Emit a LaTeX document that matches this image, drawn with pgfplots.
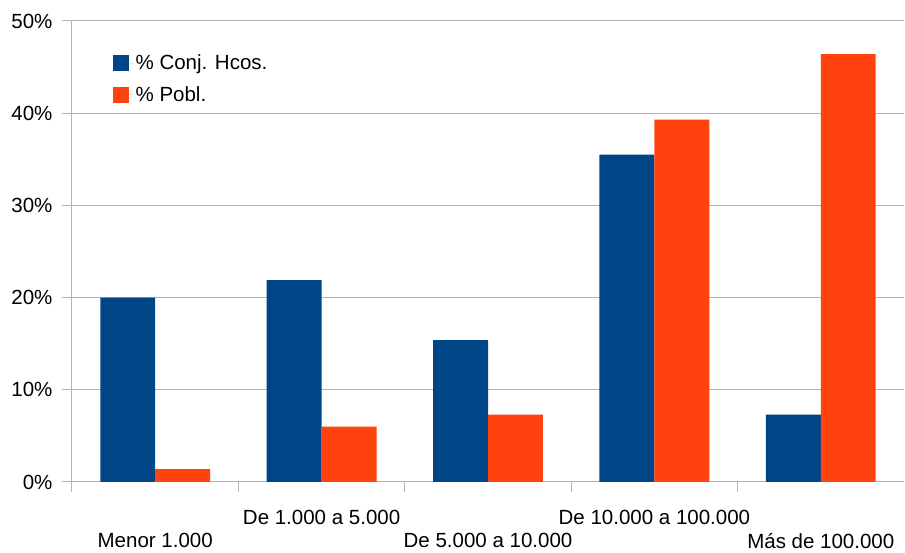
\documentclass[border=0pt]{standalone}
\usepackage{pgfplots}
\pgfplotsset{compat=1.18}
\usepackage{fontspec}
\setmainfont{Liberation Sans}
\definecolor{cblue}{HTML}{004586}
\definecolor{corange}{HTML}{FF420E}
\definecolor{cgrid}{HTML}{B3B3B3}
\begin{document}
\begin{tikzpicture}
\begin{axis}[
  scale only axis,
  width=832bp, height=461bp,
  ybar=0pt, bar width=0.33,
  xmin=-0.5, xmax=4.5,
  ymin=0, ymax=50,
  ytick={0,10,20,30,40,50},
  yticklabel={\pgfmathprintnumber{\tick}\%},
  /pgf/number format/assume math mode=true,
  ymajorgrids,
  grid style={cgrid, line width=1bp},
  axis x line*=bottom, axis y line*=left,
  axis line style={cgrid, line width=1bp, -},
  tick align=outside,
  major tick length=10bp,
  minor tick length=10bp,
  tick style={cgrid, line width=1bp},
  major x tick style={draw=none},
  xtick={1,3},
  xticklabels={De 1.000 a 5.000, De 10.000 a 100.000},
  minor xtick={-0.5,0.5,1.5,2.5,3.5},
  extra x ticks={0,2,4},
  extra x tick labels={Menor 1.000, De 5.000 a 10.000, Más de 100.000},
  extra x tick style={xticklabel style={yshift=-33bp}, major tick length=0pt},
  xticklabel style={inner sep=0pt, yshift=-18.2bp},
  yticklabel style={xshift=-6bp},
  ticklabel style={font=\fontsize{20.5bp}{24bp}\selectfont},
  legend style={draw=none, fill=none, at={(0.045,0.935)}, anchor=north west,
    font=\fontsize{20.5bp}{24bp}\selectfont, row sep=11bp},
  legend cell align=left,
  legend image code/.code={\fill[#1] (0bp,-8bp) rectangle (16bp,8bp); \path (0bp,0bp) -- (21bp,0bp);},
  clip=false,
]
\addplot[fill=cblue, draw=none] coordinates {(0,20.0) (1,21.9) (2,15.4) (3,35.5) (4,7.3)};
\addplot[fill=corange, draw=none] coordinates {(0,1.4) (1,6.0) (2,7.3) (3,39.3) (4,46.4)};
\legend{\% Conj. Hcos., \% Pobl.}
\coordinate (bl) at (rel axis cs:0,0);
\coordinate (tr) at (rel axis cs:1,1);
\end{axis}
\pgfresetboundingbox
\path ([shift={(-72bp,-71bp)}]bl) rectangle ([shift={(1bp,21bp)}]tr);
\end{tikzpicture}
\end{document}
